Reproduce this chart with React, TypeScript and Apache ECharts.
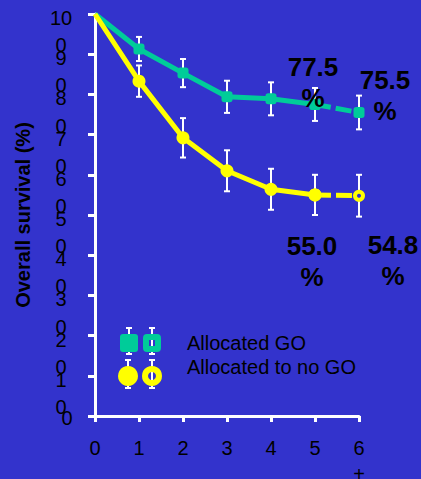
import React, { useEffect, useRef } from "react";
import * as echarts from "echarts";

// Overall survival by year, two allocation arms
const years = [0, 1, 2, 3, 4, 5, 6];
const goSurvival = [100, 91.3, 85.3, 79.4, 78.9, 77.5, 75.5];
const noGoSurvival = [100, 83.3, 69.2, 61.0, 56.4, 55.0, 54.8];
// half-width of the error bar at each year (years 1..6)
const goError = [3.0, 3.5, 4.0, 4.1, 4.1, 4.2];
const noGoError = [3.9, 4.9, 5.1, 5.1, 5.0, 5.2];
const legendNames = ["Allocated GO", "Allocated to no GO"];
const yTicks = [0, 10, 20, 30, 40, 50, 60, 70, 80, 90, 100];
const Y_STEP = 10;

const BG = "#3333CC";
const GREEN = "#00CC99";
const YELLOW = "#FFFF00";
const FONT = "'Liberation Sans', Arial, sans-serif";

function errorBarItem(params: any, api: any) {
  const x = api.value(0);
  const y = api.value(1);
  const e = api.value(2);
  const top = api.coord([x, y + e]);
  const bot = api.coord([x, y - e]);
  const w = 3;
  const st = { stroke: "#fff", lineWidth: 2 };
  return {
    type: "group",
    children: [
      { type: "line", shape: { x1: top[0], y1: top[1], x2: bot[0], y2: bot[1] }, style: st },
      { type: "line", shape: { x1: top[0] - w, y1: top[1], x2: top[0] + w, y2: top[1] }, style: st },
      { type: "line", shape: { x1: bot[0] - w, y1: bot[1], x2: bot[0] + w, y2: bot[1] }, style: st },
    ],
  };
}

const pctLabel = (dx: number, dy: number) => ({
  show: true,
  position: "inside",
  offset: [dx, dy],
  formatter: (p: any) => `${Number(p.value[1]).toFixed(1)}\n%`,
  color: "#000",
  fontSize: 26,
  fontWeight: "bold",
  lineHeight: 31,
  fontFamily: FONT,
  align: "center",
  verticalAlign: "middle",
});

function legendGraphics() {
  const bar = (x: number, y1: number, y2: number) => [
    { type: "line", shape: { x1: x, y1, x2: x, y2 }, style: { stroke: "#fff", lineWidth: 2 } },
    { type: "line", shape: { x1: x - 3, y1, x2: x + 3, y2: y1 }, style: { stroke: "#fff", lineWidth: 2 } },
    { type: "line", shape: { x1: x - 3, y1: y2, x2: x + 3, y2 }, style: { stroke: "#fff", lineWidth: 2 } },
  ];
  return [
    ...bar(129, 328, 354),
    ...bar(152, 328, 354),
    { type: "rect", shape: { x: 120, y: 334, width: 18, height: 18, r: 3 }, style: { fill: GREEN } },
    { type: "rect", shape: { x: 146, y: 337, width: 12, height: 12, r: 1 }, style: { fill: "none", stroke: GREEN, lineWidth: 6 } },
    ...bar(128, 360, 388),
    ...bar(152, 360, 388),
    { type: "circle", shape: { cx: 128, cy: 376, r: 10 }, style: { fill: YELLOW } },
    { type: "circle", shape: { cx: 152, cy: 376, r: 7 }, style: { fill: "none", stroke: YELLOW, lineWidth: 6 } },
    {
      type: "text",
      x: 187,
      y: 343,
      style: { text: legendNames[0], fill: "#000", font: `20px ${FONT}`, verticalAlign: "middle" },
    },
    {
      type: "text",
      x: 187,
      y: 367,
      style: { text: legendNames[1], fill: "#000", font: `20px ${FONT}`, verticalAlign: "middle" },
    },
  ];
}

export default function App() {
  const ref = useRef<HTMLDivElement>(null);

  useEffect(() => {
    if (!ref.current) return;
    const chart = echarts.init(ref.current, undefined, { renderer: "svg" });

    const pts = (vals: number[]) => years.map((y, i) => [y, vals[i]]);
    const goPts = pts(goSurvival);
    const noGoPts = pts(noGoSurvival);

    const solid = (p: number[][]) =>
      p.slice(0, 6).map((v, i) => (i === 0 ? { value: v, symbol: "none" } : { value: v }));

    const errData = (p: number[][], err: number[]) => p.slice(1).map((v, i) => [v[0], v[1], err[i]]);

    const yMin = yTicks[0];
    const yMax = yTicks[yTicks.length - 1];

    // Tick labels are wrapped over two lines ("9" above "0" for 90):
    // the first axis carries the leading digits, the second one the trailing "0"
    // that sits just under them (drawn at the tick one step lower).
    const leadLabel = (v: number) => {
      if (v === 0) return "{z|0}";
      const s = String(v);
      return `{a|${s.slice(0, -1)}}`;
    };
    const trailLabel = (v: number) => {
      const upper = String(v + Y_STEP);
      return v + Y_STEP > yMax ? "" : `{b|${upper.slice(-1)}}`;
    };

    const labelFont = { fontSize: 20, color: "#000", fontFamily: FONT };

    chart.setOption({
      animation: false,
      backgroundColor: BG,
      grid: { left: 95, right: 62, top: 14, bottom: 63, containLabel: false, outerBoundsMode: "none" },
      xAxis: {
        type: "value",
        min: 0,
        max: 6,
        interval: 1,
        name: "Years",
        nameLocation: "middle",
        nameGap: 41,
        nameTextStyle: { color: "#000", fontSize: 20, fontWeight: "bold", fontFamily: FONT, padding: [0, 0, 0, 14] },
        axisLine: { show: true, lineStyle: { color: "#fff", width: 3 } },
        axisTick: { show: true, length: 6, lineStyle: { color: "#fff", width: 3 } },
        splitLine: { show: false },
        axisLabel: {
          color: "#000",
          fontSize: 20,
          lineHeight: 26,
          fontFamily: FONT,
          margin: 19,
          showMinLabel: true,
          showMaxLabel: true,
          formatter: (v: number) => (v === years[years.length - 1] ? `${v}\n+` : String(v)),
        },
      },
      yAxis: [
        {
          type: "value",
          min: yMin,
          max: yMax,
          interval: Y_STEP,
          name: "Overall survival (%)",
          nameLocation: "middle",
          nameGap: 62,
          nameTextStyle: { color: "#000", fontSize: 20, fontWeight: "bold", fontFamily: FONT },
          axisLine: { show: true, lineStyle: { color: "#fff", width: 3 } },
          axisTick: { show: true, length: 7, lineStyle: { color: "#fff", width: 3 } },
          splitLine: { show: false },
          axisLabel: {
            align: "center",
            margin: 34,
            showMinLabel: true,
            showMaxLabel: true,
            formatter: leadLabel,
            rich: {
              a: { ...labelFont, lineHeight: 26, padding: [8, 0, 0, 0] },
              z: { ...labelFont, lineHeight: 26, padding: [4, 0, 0, 12] },
            },
          },
        },
        {
          type: "value",
          min: yMin,
          max: yMax,
          interval: Y_STEP,
          position: "left",
          offset: 0,
          axisLine: { show: false },
          axisTick: { show: false },
          splitLine: { show: false },
          axisLabel: {
            align: "center",
            margin: 34,
            showMinLabel: true,
            showMaxLabel: true,
            formatter: trailLabel,
            rich: {
              b: { ...labelFont, lineHeight: 18, padding: [0, 0, 18, 0] },
            },
          },
        },
      ],
      graphic: legendGraphics(),
      series: [
        {
          type: "custom",
          name: "go-err",
          z: 1,
          coordinateSystem: "cartesian2d",
          encode: { x: 0, y: 1 },
          renderItem: errorBarItem,
          data: errData(goPts, goError),
        },
        {
          type: "custom",
          name: "nogo-err",
          z: 1,
          coordinateSystem: "cartesian2d",
          encode: { x: 0, y: 1 },
          renderItem: errorBarItem,
          data: errData(noGoPts, noGoError),
        },
        {
          type: "line",
          name: legendNames[0],
          z: 3,
          data: solid(goPts),
          symbol: "roundRect",
          symbolSize: 11,
          itemStyle: { color: GREEN },
          lineStyle: { color: GREEN, width: 5 },
        },
        {
          type: "line",
          z: 3,
          data: [
            { value: goPts[5], label: pctLabel(-2, -22) },
            { value: goPts[6], label: pctLabel(26, -17) },
          ],
          symbol: "roundRect",
          symbolSize: 11,
          itemStyle: { color: GREEN },
          lineStyle: { color: GREEN, width: 5, type: [16, 5] },
        },
        {
          type: "line",
          name: legendNames[1],
          z: 3,
          data: solid(noGoPts),
          symbol: "circle",
          symbolSize: 13,
          itemStyle: { color: YELLOW },
          lineStyle: { color: YELLOW, width: 5 },
        },
        {
          type: "line",
          z: 3,
          data: [
            { value: noGoPts[5], label: pctLabel(-3, 67) },
            {
              value: noGoPts[6],
              symbolSize: 8,
              itemStyle: { color: BG, borderColor: YELLOW, borderWidth: 4 },
              label: pctLabel(34, 65),
            },
          ],
          symbol: "circle",
          symbolSize: 13,
          itemStyle: { color: YELLOW },
          lineStyle: { color: YELLOW, width: 5, type: [16, 5] },
        },
      ],
    });

    return () => chart.dispose();
  }, []);

  return (
    <div
      ref={ref}
      style={{ position: "absolute", left: 0, top: 0, width: 421, height: 479 }}
    />
  );
}
